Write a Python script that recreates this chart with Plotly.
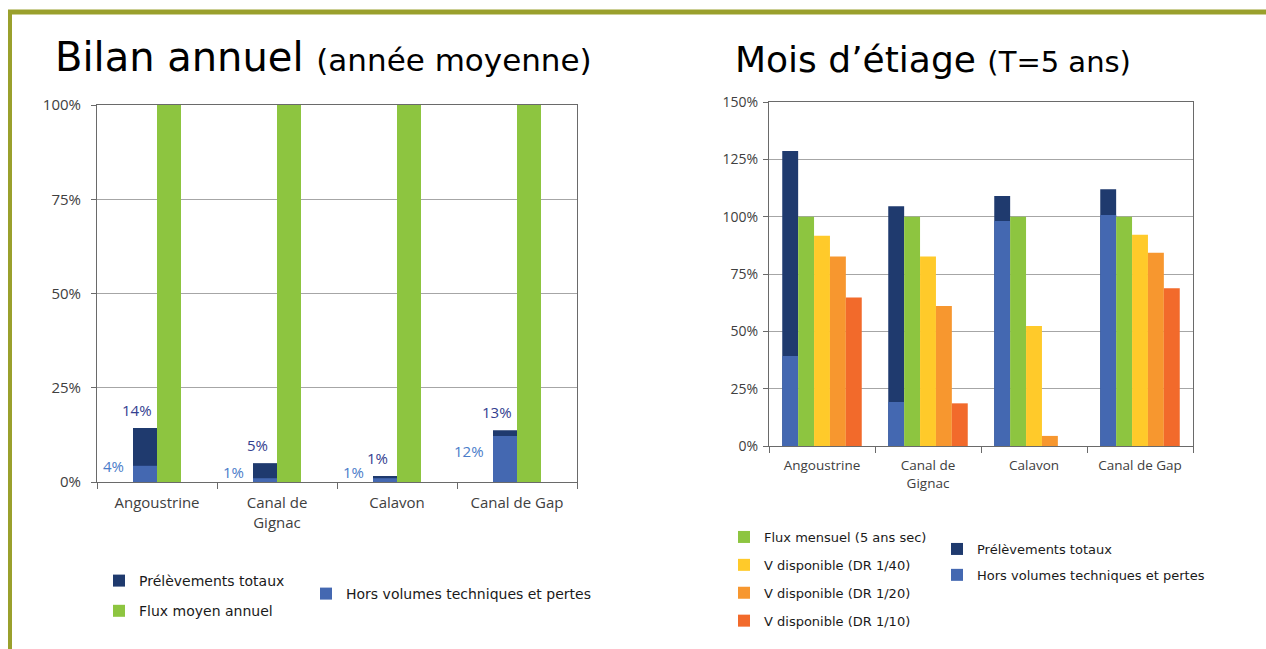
import plotly.graph_objects as go

# ---------------- data ----------------
categories = ["Angoustrine", "Canal de<br>Gignac", "Calavon", "Canal de Gap"]

# Bilan annuel (année moyenne)
annual_prelevements = [0.143, 0.05, 0.016, 0.137]
annual_hors_volumes = [0.043, 0.01, 0.01, 0.122]
annual_flux_moyen = [1.0, 1.0, 1.0, 1.0]
annual_prelevements_labels = ["14%", "5%", "1%", "13%"]
annual_hors_volumes_labels = ["4%", "1%", "1%", "12%"]

# Mois d'étiage (T=5 ans)
etiage_prelevements = [1.286, 1.045, 1.09, 1.12]
etiage_hors_volumes = [0.392, 0.192, 0.981, 1.007]
etiage_flux_mensuel = [1.0, 1.0, 1.0, 1.0]
etiage_dr40 = [0.917, 0.826, 0.523, 0.921]
etiage_dr20 = [0.826, 0.61, 0.044, 0.843]
etiage_dr10 = [0.647, 0.186, 0.0, 0.688]

y_ticks_left = [0, 0.25, 0.5, 0.75, 1.0]
y_ticks_right = [0, 0.25, 0.5, 0.75, 1.0, 1.25, 1.5]

# ---------------- style ----------------
NAVY = "#1F3A6E"
BLUE = "#4468B1"
GREEN = "#8DC540"
YELLOW = "#FFCA2A"
ORANGE = "#F7972F"
RED = "#F26A2B"
OLIVE = "#9AA02C"
AXIS = "#6A6A6A"
GRID = "#A6A6A6"
TXT = "#404040"

W, H = 1266, 649
def px(x):
    return x / W
def py(y):
    return 1 - y / H

fig = go.Figure()

# ---- left chart ----
fig.add_trace(go.Bar(x=categories, y=annual_prelevements, xaxis="x", yaxis="y",
                     offset=-0.2, width=0.2, marker=dict(color=NAVY, line=dict(width=0)),
                     name="Prélèvements totaux", legend="legend", legendgroup="a1"))
fig.add_trace(go.Bar(x=categories, y=annual_hors_volumes, xaxis="x", yaxis="y",
                     offset=-0.2, width=0.2, marker=dict(color=BLUE, line=dict(width=0)),
                     name="Hors volumes techniques et pertes", legend="legend2", legendgroup="a2"))
fig.add_trace(go.Bar(x=categories, y=annual_flux_moyen, xaxis="x", yaxis="y",
                     offset=0.0, width=0.2, marker=dict(color=GREEN, line=dict(width=0)),
                     name="Flux moyen annuel", legend="legend", legendgroup="a3"))

# ---- right chart ----
fig.add_trace(go.Bar(x=categories, y=etiage_prelevements, xaxis="x2", yaxis="y2",
                     offset=-0.375, width=0.15, marker=dict(color=NAVY, line=dict(width=0)),
                     name="Prélèvements totaux", legend="legend4", legendgroup="b1"))
fig.add_trace(go.Bar(x=categories, y=etiage_hors_volumes, xaxis="x2", yaxis="y2",
                     offset=-0.375, width=0.15, marker=dict(color=BLUE, line=dict(width=0)),
                     name="Hors volumes techniques et pertes", legend="legend4", legendgroup="b2"))
fig.add_trace(go.Bar(x=categories, y=etiage_flux_mensuel, xaxis="x2", yaxis="y2",
                     offset=-0.225, width=0.15, marker=dict(color=GREEN, line=dict(width=0)),
                     name="Flux mensuel (5 ans sec)", legend="legend3", legendgroup="b3"))
fig.add_trace(go.Bar(x=categories, y=etiage_dr40, xaxis="x2", yaxis="y2",
                     offset=-0.075, width=0.15, marker=dict(color=YELLOW, line=dict(width=0)),
                     name="V disponible (DR 1/40)", legend="legend3", legendgroup="b4"))
fig.add_trace(go.Bar(x=categories, y=etiage_dr20, xaxis="x2", yaxis="y2",
                     offset=0.075, width=0.15, marker=dict(color=ORANGE, line=dict(width=0)),
                     name="V disponible (DR 1/20)", legend="legend3", legendgroup="b5"))
fig.add_trace(go.Bar(x=categories, y=etiage_dr10, xaxis="x2", yaxis="y2",
                     offset=0.225, width=0.15, marker=dict(color=RED, line=dict(width=0)),
                     name="V disponible (DR 1/10)", legend="legend3", legendgroup="b6"))

# ---- data labels (left chart) ----
annotations = []
for c, v, t in zip(categories, annual_prelevements, annual_prelevements_labels):
    annotations.append(dict(x=c, y=v, xref="x", yref="y", text=t, showarrow=False,
                            xshift=-20, yshift=18, yanchor="middle", xanchor="center",
                            font=dict(family="Open Sans", size=15, color="#34408F")))
for c, v, t in zip(categories, annual_hors_volumes, annual_hors_volumes_labels):
    annotations.append(dict(x=c, y=v / 2, xref="x", yref="y", text=t, showarrow=False,
                            xshift=-31, yshift=8, yanchor="middle", xanchor="right",
                            font=dict(family="Open Sans", size=15, color="#4A7CC9")))

# ---- titles ----
annotations.append(dict(x=px(53), y=py(57), xref="paper", yref="paper", xanchor="left", yanchor="middle",
                        showarrow=False,
                        text="Bilan annuel <span style='font-size:31px'>(année moyenne)</span>",
                        font=dict(family="DejaVu Sans", size=40, color="#000000")))
annotations.append(dict(x=px(733), y=py(60), xref="paper", yref="paper", xanchor="left", yanchor="middle",
                        showarrow=False,
                        text="Mois d’étiage <span style='font-size:29px'>(T=5 ans)</span>",
                        font=dict(family="DejaVu Sans", size=36, color="#000000")))

shapes = [
    dict(type="line", xref="paper", yref="paper", x0=px(8), x1=1.0, y0=py(12), y1=py(12),
         line=dict(color=OLIVE, width=5)),
    dict(type="line", xref="paper", yref="paper", x0=px(10), x1=px(10), y0=py(10), y1=0,
         line=dict(color=OLIVE, width=4)),
]

axis_common = dict(showline=True, linecolor=AXIS, linewidth=1, mirror=True)

legend_common = dict(xanchor="left", yanchor="top", bgcolor="rgba(0,0,0,0)", borderwidth=0,
                     orientation="v", itemwidth=30, traceorder="grouped",
                     itemclick=False, itemdoubleclick=False)

fig.update_layout(
    width=W, height=H,
    margin=dict(l=0, r=0, t=0, b=0, pad=0, autoexpand=False),
    paper_bgcolor="white", plot_bgcolor="white",
    barmode="overlay",
    showlegend=True,
    xaxis=dict(domain=[px(97), px(577)], anchor="y", type="category",
               ticks="outside", ticklen=6, tickcolor=AXIS, tickson="boundaries",
               ticklabelstandoff=7,
               tickfont=dict(family="Open Sans", size=15, color=TXT), **axis_common),
    yaxis=dict(domain=[py(482), py(105)], anchor="x", range=[0, 1.0],
               tickvals=y_ticks_left, tickformat=".0%",
               ticks="outside", ticklen=5, tickcolor=AXIS, ticklabelstandoff=7,
               showgrid=True, gridcolor=GRID, gridwidth=1, zeroline=False,
               tickfont=dict(family="Open Sans", size=15, color=TXT), **axis_common),
    xaxis2=dict(domain=[px(769), px(1193)], anchor="y2", type="category",
                ticks="outside", ticklen=6, tickcolor=AXIS, tickson="boundaries",
                ticklabelstandoff=7,
                tickfont=dict(family="Open Sans", size=13.5, color=TXT), **axis_common),
    yaxis2=dict(domain=[py(446), py(102)], anchor="x2", range=[0, 1.5],
                tickvals=y_ticks_right, tickformat=".0%",
                ticks="outside", ticklen=5, tickcolor=AXIS, ticklabelstandoff=2,
                showgrid=True, gridcolor=GRID, gridwidth=1, zeroline=False,
                tickfont=dict(family="Open Sans", size=14, color=TXT), **axis_common),
    legend=dict(x=px(99), y=py(565), tracegroupgap=9,
                font=dict(family="DejaVu Sans", size=14, color="#1a1a1a"), **legend_common),
    legend2=dict(x=px(306), y=py(578), tracegroupgap=9,
                 font=dict(family="DejaVu Sans", size=14, color="#1a1a1a"), **legend_common),
    legend3=dict(x=px(724), y=py(522), tracegroupgap=8,
                 font=dict(family="DejaVu Sans", size=13, color="#1a1a1a"), **legend_common),
    legend4=dict(x=px(937), y=py(534), tracegroupgap=6,
                 font=dict(family="DejaVu Sans", size=13, color="#1a1a1a"), **legend_common),
    annotations=annotations,
    shapes=shapes,
)

fig.write_html("out.html", config={"displayModeBar": False},
               post_script="document.body.style.margin='0';document.body.style.overflow='hidden';")
